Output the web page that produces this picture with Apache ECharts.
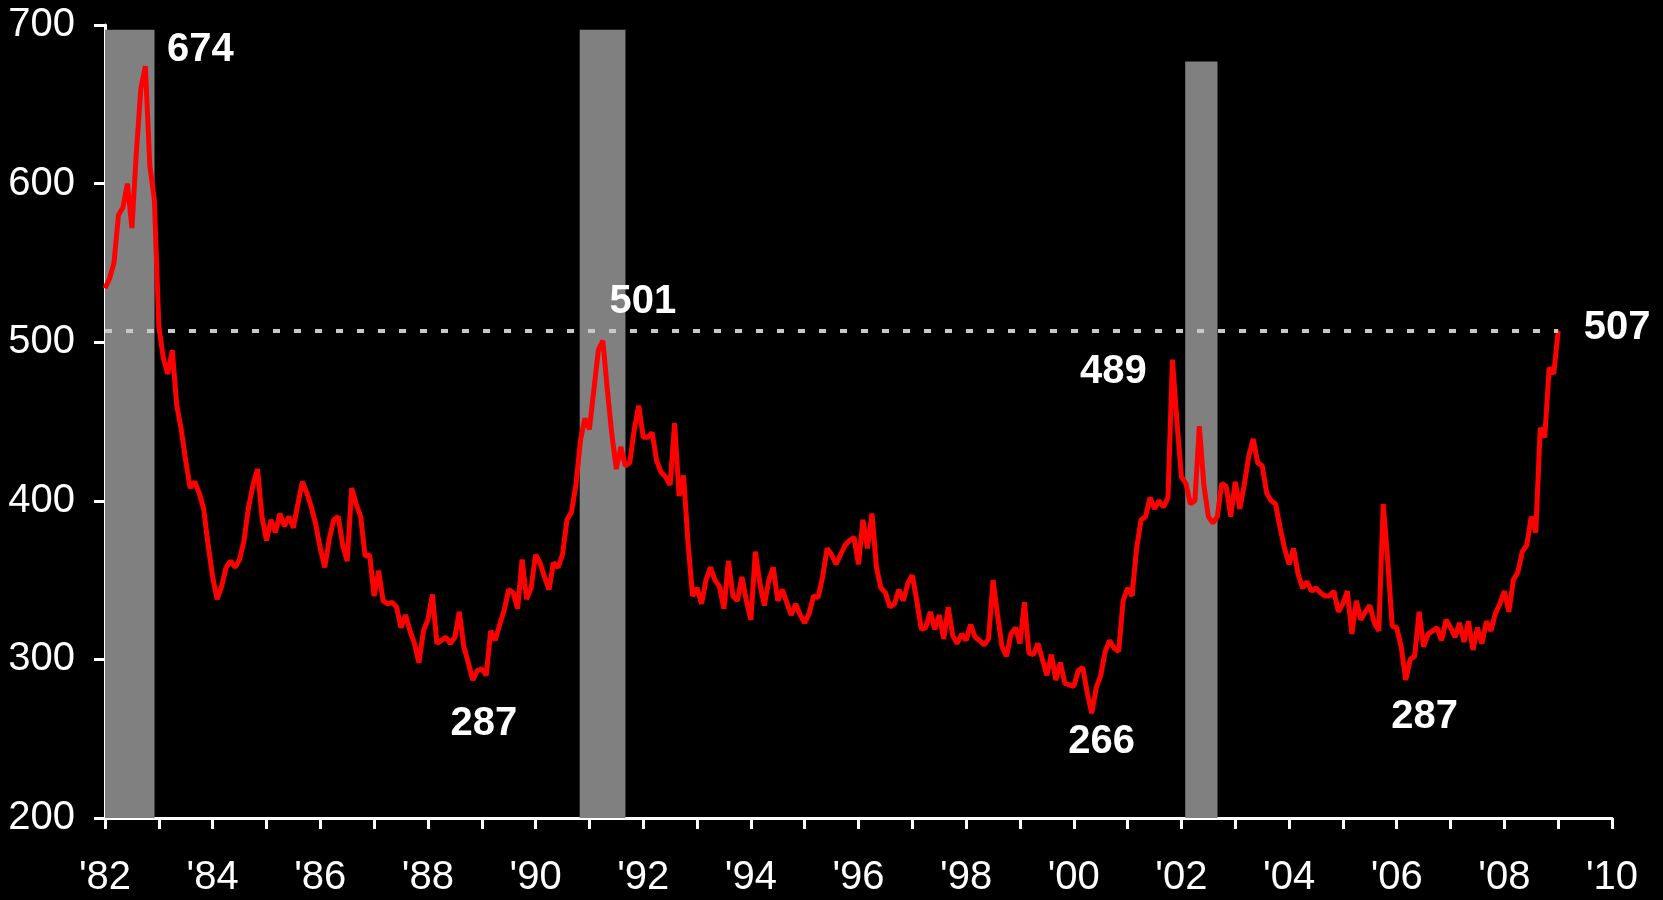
<!DOCTYPE html>
<html lang="en">
<head>
  <meta charset="UTF-8">
  <title>Initial Claims</title>
  <script src="https://cdn.jsdelivr.net/npm/echarts@6/dist/echarts.min.js"></script>
  <style>
    html, body { margin: 0; padding: 0; background: #000; }
    #main { width: 1663px; height: 900px; }
  </style>
</head>
<body>
  <div id="main"></div>
  <script>
    // monthly values, first point = Jan 1982
    const startYear = 1982;
    const claims1980s = [
      534, 540, 550, 580, 585, 600, 572, 620, 660, 674, 611, 590,   // 1982
      510, 490, 480, 495, 460, 445, 425, 408, 412, 405, 395, 372,   // 1983
      352, 338, 346, 358, 362, 358, 363, 375, 396, 410, 420, 390,   // 1984
      375, 388, 380, 392, 384, 390, 383, 398, 412, 405, 396, 385,   // 1985
      370, 358, 376, 388, 390, 372, 362, 408, 398, 390, 365, 366,   // 1986
      340, 356, 337, 335, 336, 333, 320, 328, 318, 310, 298, 318,   // 1987
      325, 341, 310, 312, 314, 310, 314, 330, 308, 298, 287, 293,   // 1988
      294, 290, 318, 312, 322, 331, 344, 342, 332, 363, 338, 345    // 1989
    ];
    const claims1990s = [
      366, 361, 352, 344, 361, 358, 366, 388, 393, 410, 438, 452,   // 1990
      445, 470, 495, 501, 470, 442, 420, 434, 422, 424, 445, 460,   // 1991
      440, 440, 443, 425, 418, 415, 410, 449, 403, 416, 373, 340,   // 1992
      345, 335, 350, 358, 350, 346, 332, 362, 340, 337, 352, 337,   // 1993
      325, 368, 348, 334, 350, 358, 337, 344, 336, 328, 335, 328,   // 1994
      323, 329, 340, 339, 352, 370, 366, 360, 366, 372, 375, 377,   // 1995
      360, 388, 370, 392, 358, 345, 342, 333, 335, 344, 337, 348,   // 1996
      353, 337, 319, 320, 330, 319, 328, 313, 333, 315, 310, 316,   // 1997
      312, 322, 314, 312, 309, 313, 350, 328, 308, 302, 316, 320,   // 1998
      310, 336, 304, 303, 310, 300, 290, 303, 287, 298, 285, 284    // 1999
    ];
    const claims2000s = [
      283, 293, 295, 279, 266, 282, 290, 305, 312, 307, 305, 337,   // 2000
      345, 340, 370, 388, 390, 402, 395, 400, 396, 402, 489, 450,   // 2001
      415, 411, 398, 400, 447, 410, 390, 386, 390, 411, 409, 390,   // 2002
      412, 395, 410, 428, 439, 424, 422, 405, 400, 398, 383, 370,   // 2003
      360, 370, 354, 345, 349, 343, 345, 342, 340, 340, 343, 330,   // 2004
      335, 343, 316, 337, 325, 330, 334, 323, 318, 398, 362, 321,   // 2005
      320, 308, 287, 300, 302, 330, 308, 316, 318, 320, 312, 325,   // 2006
      320, 314, 323, 311, 324, 306, 320, 310, 324, 318, 329, 335,   // 2007
      343, 330, 350, 355, 368, 372, 390, 380, 446, 440, 484, 480,   // 2008
      507                                                           // Jan 2009
    ];

    // shaded periods [start, end, top]
    const recessionStart = [1982.0, 1990.82, 2002.07];
    const recessionEnd = [1982.92, 1991.67, 2002.67];
    const recessionTop = [697, 697, 677];

    const refLevel = 507;
    // callout values and the month index they belong to
    const calloutValues = [674, 501, 489, 507, 287, 266, 287];
    const calloutIndex = [9, 111, 238, 324, 82, 220, 290];

    const claims = claims1980s.concat(claims1990s, claims2000s);
    const seriesData = claims.map((v, i) => [startYear + i / 12, v]);

    const axisFont = "'Liberation Sans Narrow', 'Arial Narrow', 'Liberation Sans', Arial, sans-serif";
    const labelOffsets = [[55, -16], [40, -39], [-59, 12], [59, -3], [11, 44], [10, 29], [19, 37]];

    let myChart = echarts.init(document.getElementById('main'));

    let option = {
      backgroundColor: '#000',
      animation: false,
      grid: { left: 105, right: 51, top: 25, bottom: 82 },
      xAxis: {
        type: 'value',
        min: 1982,
        max: 2010,
        interval: 1,
        splitLine: { show: false },
        axisLine: { lineStyle: { color: '#fff', width: 3 } },
        axisTick: { length: 11, lineStyle: { color: '#fff', width: 3 } },
        axisLabel: {
          color: '#fff',
          fontFamily: axisFont,
          fontSize: 40,
          margin: 40,
          formatter: v => (v % 2 === 0 ? "'" + String(v).slice(2) : '')
        }
      },
      yAxis: {
        type: 'value',
        min: 200,
        max: 700,
        interval: 100,
        splitLine: { show: false },
        axisLine: { show: true, lineStyle: { color: '#fff', width: 3 } },
        axisTick: { show: true, length: 11, lineStyle: { color: '#fff', width: 3 } },
        axisLabel: { color: '#fff', fontFamily: axisFont, fontSize: 40, margin: 30 }
      },
      series: [
        {
          name: 'shade',
          type: 'line',
          data: [],
          z: 1,
          markArea: {
            silent: true,
            itemStyle: { color: '#808080', opacity: 1 },
            data: recessionStart.map((s, i) => [
              { xAxis: s, yAxis: 200 },
              { xAxis: recessionEnd[i], yAxis: recessionTop[i] }
            ])
          }
        },
        {
          name: 'claims',
          type: 'line',
          data: seriesData,
          z: 3,
          showSymbol: false,
          smooth: false,
          lineStyle: { color: '#ff0000', width: 5 },
          markPoint: {
            symbol: 'circle',
            symbolSize: 0,
            label: {
              show: true,
              position: 'inside',
              color: '#fff',
              fontFamily: "'Liberation Sans', Arial, sans-serif",
              fontWeight: 'bold',
              fontSize: 40,
              formatter: p => String(p.value)
            },
            data: calloutValues.map((v, i) => ({
              coord: seriesData[calloutIndex[i]],
              value: v,
              label: { offset: labelOffsets[i] }
            }))
          }
        },
        {
          name: 'ref',
          type: 'line',
          data: [],
          z: 2,
          markLine: {
            silent: true,
            symbol: 'none',
            label: { show: false },
            lineStyle: { color: '#c8c8c8', width: 4, type: [7, 14] },
            data: [[
              { coord: [startYear, refLevel] },
              { coord: [startYear + (claims.length - 1) / 12, refLevel] }
            ]]
          }
        }
      ]
    };
    myChart.setOption(option);

    window.addEventListener('resize', function () {
      myChart.resize();
    });
  </script>
</body>
</html>
